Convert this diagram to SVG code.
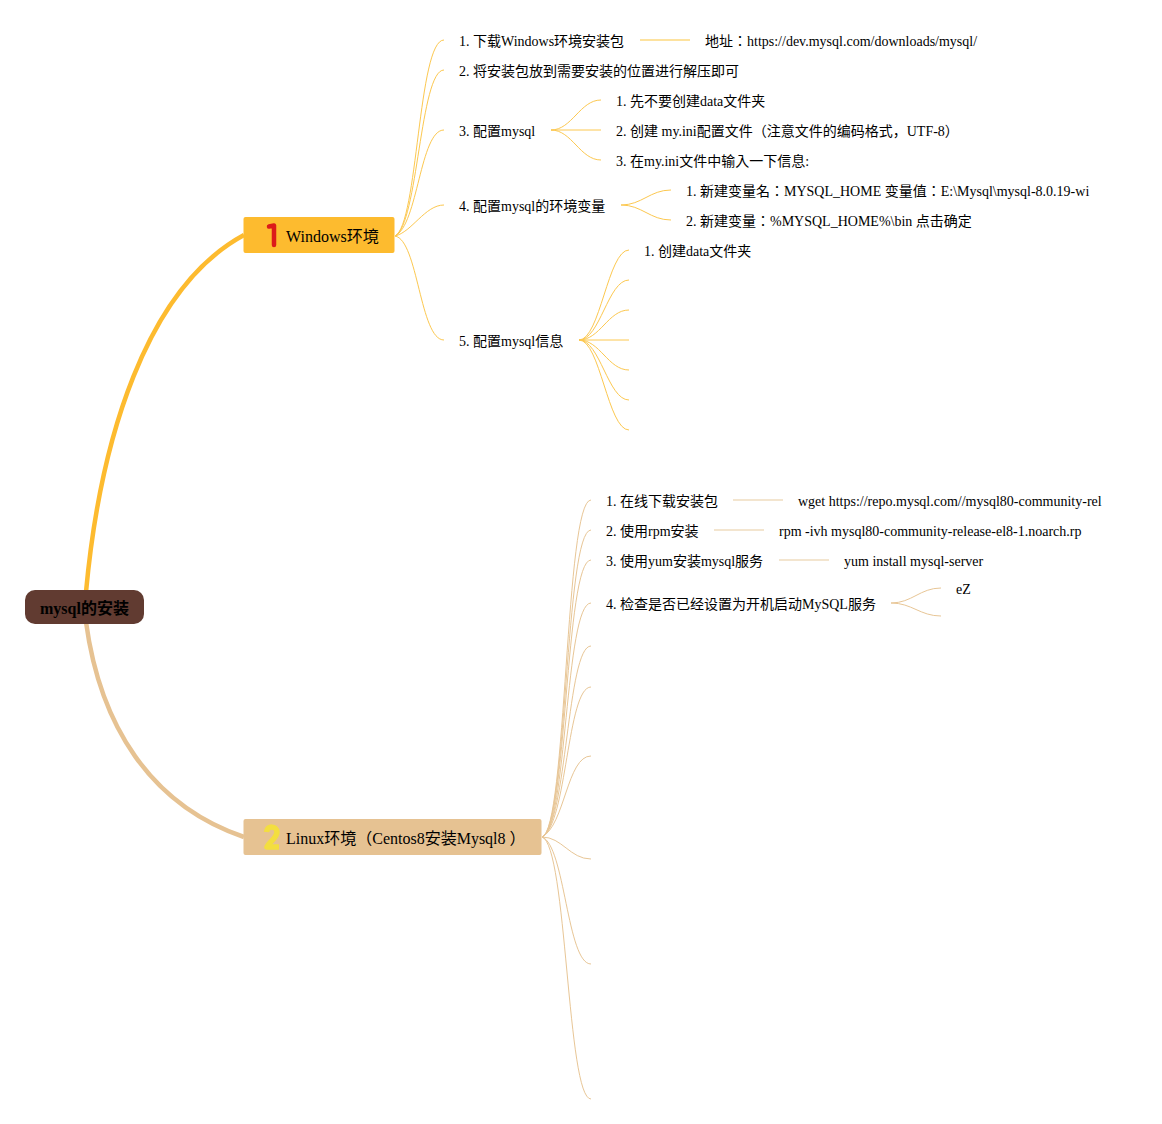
<svg xmlns="http://www.w3.org/2000/svg" width="1162" height="1124" viewBox="0 0 1162 1124">
<style>
text{font-family:"Liberation Serif","Noto Sans CJK JP",serif;font-size:14px;fill:#000}
.t{font-size:16px}
.r{font-size:16px;font-weight:bold;fill:#000}
.y,.b{fill:none;stroke-width:1}
.y{stroke:#fcc850}
.b{stroke:#e8c696}
.ys{fill:none;stroke:#fdd97f;stroke-width:1.5}
.bs{fill:none;stroke:#efdcbf;stroke-width:1.5}
</style>
<rect width="1162" height="1124" fill="#fff"/>
<g id="connectors">
<path d="M86 592C100 440 146 288 244 235" fill="none" stroke="#fdbb2f" stroke-width="4.500"/>
<path d="M86 622C100 725 150 805 244 837" fill="none" stroke="#e6c292" stroke-width="4.500"/>
<g class="y">
<path d="M395 236C418 225 418 40 444 40"/>
<path d="M395 236C418 225 420 70 444 70"/>
<path d="M395 236C418 225 420 130 444 130"/>
<path d="M395 236C412 232 425 205 444 205"/>
<path d="M395 236C418 240 420 340 444 340"/>
<path d="M551 130C572 130 580 100 601 100"/>
<path d="M551 130H601"/>
<path d="M551 130C572 130 580 160 601 160"/>
<path d="M621 205C642 205 650 190 671 190"/>
<path d="M621 205C642 205 650 220 671 220"/>
<path d="M579 340C600 340 608 250 629 250"/>
<path d="M579 340C600 340 608 280 629 280"/>
<path d="M579 340C600 340 608 310 629 310"/>
<path d="M579 340H629"/>
<path d="M579 340C600 340 608 370 629 370"/>
<path d="M579 340C600 340 608 400 629 400"/>
<path d="M579 340C600 340 608 430 629 430"/>
</g>
<path class="ys" d="M640 40H690"/>
<g class="b">
<path d="M542 837C567 830 565 500 591 500"/>
<path d="M542 837C567 830 565 530 591 530"/>
<path d="M542 837C567 830 565 560 591 560"/>
<path d="M542 837C567 830 565 603 591 603"/>
<path d="M542 837C567 825 567 646 591 646"/>
<path d="M542 837C567 825 567 687 591 687"/>
<path d="M542 837C565 825 567 756 591 756"/>
<path d="M542 837C562 837 570 859 591 859"/>
<path d="M542 837C565 845 567 964 591 964"/>
<path d="M542 837C567 845 567 1099 591 1099"/>
<path d="M891 603C912 603 920 588 941 588"/>
<path d="M891 603C912 603 920 616 941 616"/>
</g>
<path class="bs" d="M733 500H783"/>
<path class="bs" d="M714 530H764"/>
<path class="bs" d="M779 560H829"/>
</g>
<g id="root"><rect x="25" y="590" width="119" height="34" rx="10" fill="#613b31"/><text class="r" x="40" y="614">mysql的安装</text></g>
<g id="windows"><rect x="243.500" y="217" width="151" height="36" rx="2" fill="#fdbb2f"/>
<path d="M269 226.500L274 225.500V245" fill="none" stroke="#dc1a1a" stroke-width="4.500" stroke-linecap="round" stroke-linejoin="round"/>
<text class="t" x="286" y="242">Windows环境</text></g>
<g id="linux"><rect x="243.500" y="819" width="298" height="36" rx="2" fill="#e6c292"/>
<path d="M266.500 832C267 825 277 826 277 832C277 838 269 842 267 847H279" fill="none" stroke="#f3de3f" stroke-width="5.500" stroke-linejoin="round"/>
<text class="t" x="286" y="844">Linux环境（Centos8安装Mysql8 ）</text></g>
<g id="win-1"><text x="459" y="46">1. 下载Windows环境安装包</text></g>
<g id="win-1-1"><text x="705" y="46">地址：https://dev.mysql.com/downloads/mysql/</text></g>
<g id="win-2"><text x="459" y="76">2. 将安装包放到需要安装的位置进行解压即可</text></g>
<g id="win-3"><text x="459" y="136">3. 配置mysql</text></g>
<g id="win-3-1"><text x="616" y="106">1. 先不要创建data文件夹</text></g>
<g id="win-3-2"><text x="616" y="136">2. 创建 my.ini配置文件（注意文件的编码格式，UTF-8）</text></g>
<g id="win-3-3"><text x="616" y="166">3. 在my.ini文件中输入一下信息:</text></g>
<g id="win-4"><text x="459" y="211">4. 配置mysql的环境变量</text></g>
<g id="win-4-1"><text x="686" y="196">1. 新建变量名：MYSQL_HOME 变量值：E:\Mysql\mysql-8.0.19-wi</text></g>
<g id="win-4-2"><text x="686" y="226">2. 新建变量：%MYSQL_HOME%\bin 点击确定</text></g>
<g id="win-5"><text x="459" y="346">5. 配置mysql信息</text></g>
<g id="win-5-1"><text x="644" y="256">1. 创建data文件夹</text></g>
<g id="lin-1"><text x="606" y="506">1. 在线下载安装包</text></g>
<g id="lin-1-1"><text x="798" y="506">wget https://repo.mysql.com//mysql80-community-rel</text></g>
<g id="lin-2"><text x="606" y="536">2. 使用rpm安装</text></g>
<g id="lin-2-1"><text x="779" y="536">rpm -ivh mysql80-community-release-el8-1.noarch.rp</text></g>
<g id="lin-3"><text x="606" y="566">3. 使用yum安装mysql服务</text></g>
<g id="lin-3-1"><text x="844" y="566">yum install mysql-server</text></g>
<g id="lin-4"><text x="606" y="609">4. 检查是否已经设置为开机启动MySQL服务</text></g>
<g id="lin-4-1"><text x="956" y="594">eZ</text></g>
</svg>
